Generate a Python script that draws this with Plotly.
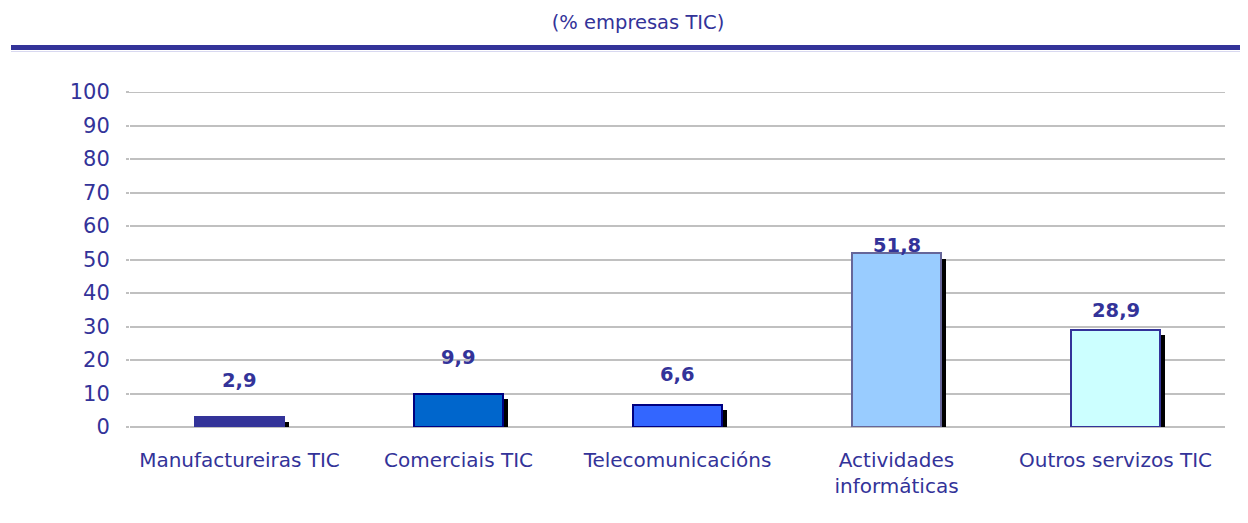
import plotly.graph_objects as go

categories = ["Manufactureiras TIC", "Comerciais TIC", "Telecomunicacións",
              "Actividades<br>informáticas", "Outros servizos TIC"]
values = [2.9, 9.9, 6.6, 51.8, 28.9]
value_labels = ["2,9", "9,9", "6,6", "51,8", "28,9"]
y_ticks = list(range(0, 101, 10))

# styling (kept separate from data)
label_y = [14.0, 20.6, 15.8, 54.3, 34.9]
fills = ["#333399", "#0066CC", "#3366FF", "#99CCFF", "#CCFFFF"]
borders = ["#333399", "#000080", "#000080", "#666699", "#333399"]
TXT = "#333399"
FONT = "DejaVu Sans"
BW = 0.405
SH_DX = 0.024
SH_DY = 1.5

# page offset (browser body margin)
OFF = 8
W, H = 1248 - OFF, 523 - OFF
L, R, T, B = 130 - OFF, 23, 92 - OFF, 96
PW = W - L - R
PH = H - T - B

fig = go.Figure()
fig.add_trace(go.Bar(
    x=categories, y=[v - SH_DY for v in values],
    width=BW, offset=-BW / 2 + SH_DX,
    marker=dict(color="black", line=dict(width=0)),
    hoverinfo="skip", showlegend=False))
fig.add_trace(go.Bar(
    x=categories, y=values, width=BW, offset=-BW / 2,
    marker=dict(color=fills, line=dict(color=borders, width=2)),
    showlegend=False))

for c, lab, ly in zip(categories, value_labels, label_y):
    fig.add_annotation(x=c, y=ly, text=f"<b>{lab}</b>", showarrow=False,
                       font=dict(family=FONT, size=19.5, color=TXT),
                       xanchor="center", yanchor="middle")

def px_y(py):
    return (427 - py) / PH

def px_x(px):
    return (px - 130) / PW

fig.add_shape(type="line", xref="paper", yref="paper",
              x0=px_x(11), x1=px_x(1260), y0=px_y(47.5), y1=px_y(47.5),
              line=dict(color="#333399", width=5))
fig.add_shape(type="line", xref="paper", yref="paper",
              x0=px_x(11), x1=px_x(1260), y0=px_y(51.5), y1=px_y(51.5),
              line=dict(color="#D8D8F0", width=1))
fig.add_shape(type="line", xref="paper", yref="y",
              x0=px_x(127), x1=1, y0=100, y1=100,
              line=dict(color="#C0C0C0", width=2), layer="below")

fig.update_layout(
    width=W, height=H,
    margin=dict(l=L, r=R, t=T, b=B),
    paper_bgcolor="white", plot_bgcolor="white",
    barmode="overlay", bargap=0,
    font=dict(family=FONT, color=TXT),
    title=dict(text="(% empresas TIC)", xref="container", yref="container",
               x=(638 - OFF) / W, y=1 - (22 - OFF) / H,
               xanchor="center", yanchor="middle",
               font=dict(family=FONT, size=19.5, color=TXT)),
    xaxis=dict(showgrid=False, showline=False, ticks="", zeroline=False,
               ticklabelstandoff=19,
               tickfont=dict(family=FONT, size=20, color=TXT)),
    yaxis=dict(range=[0, 100], tickvals=y_ticks, showgrid=True,
               gridcolor="#C0C0C0", gridwidth=2, zeroline=True,
               zerolinecolor="#C0C0C0", zerolinewidth=2, showline=False,
               ticks="outside", ticklen=3, tickcolor="#C0C0C0", tickwidth=2,
               ticklabelstandoff=12,
               tickfont=dict(family=FONT, size=21, color=TXT)),
)

fig.write_html("out.html")
